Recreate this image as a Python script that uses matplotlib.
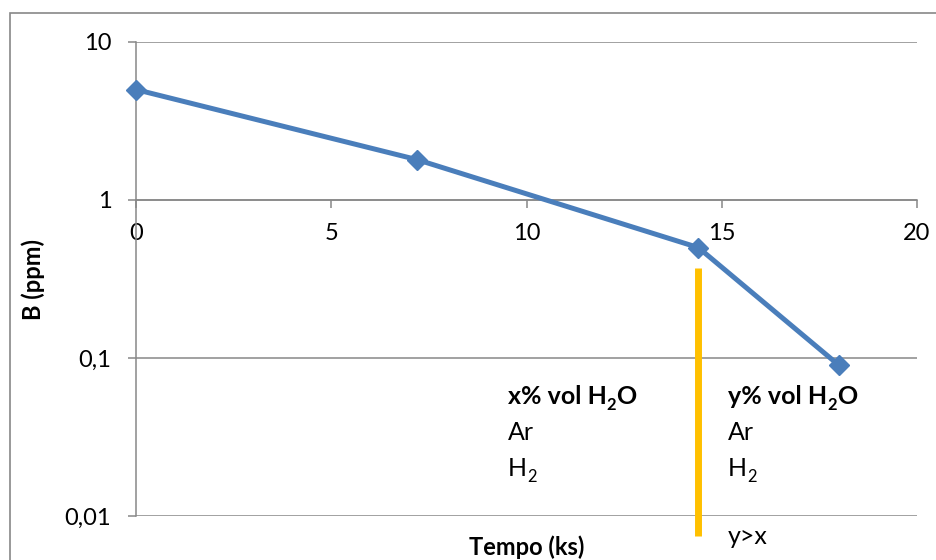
import matplotlib
matplotlib.use("Agg")
import matplotlib.pyplot as plt
from matplotlib.patches import Rectangle

plt.rcParams['font.family'] = ['Lato', 'DejaVu Sans']

# Data
tempo = [0, 7.2, 14.4, 18]
boro = [5.0, 1.8, 0.5, 0.09]
x_ticks = [0, 5, 10, 15, 20]
x_labels = ["0", "5", "10", "15", "20"]
y_ticks = [10, 1, 0.1, 0.01]
y_labels = ["10", "1", "0,1", "0,01"]
switch_x = 14.4
switch_y = [0.37, 0.0075]

W, H = 937, 560
fig = plt.figure(figsize=(W / 100, H / 100), dpi=100)
ax = fig.add_axes([136 / W, 1 - 516 / H, (917 - 136) / W, (516 - 42) / H])

grid_c = "#888888"
ax.set_yscale('log')
ax.set_xlim(0, 20)
ax.set_ylim(0.01, 10)

for yv in y_ticks:
    ax.axhline(yv, color=grid_c, lw=1.1, zorder=1)

ax.plot(tempo, boro, color="#4A7EBB", lw=3.6, marker='D', markersize=10,
        zorder=3, clip_on=False)

ax.plot([switch_x, switch_x], switch_y, color="#FFC000", lw=5, zorder=2,
        clip_on=False, solid_capstyle='butt')

ax.spines['top'].set_visible(False)
ax.spines['right'].set_visible(False)
ax.spines['bottom'].set_position(('data', 1))
ax.spines['bottom'].set_color(grid_c)
ax.spines['left'].set_color(grid_c)
ax.spines['bottom'].set_linewidth(1.1)
ax.spines['left'].set_linewidth(1.1)

ax.set_xticks(x_ticks)
ax.set_xticklabels(x_labels)
ax.set_yticks(y_ticks)
ax.set_yticklabels(y_labels)
ax.yaxis.set_minor_locator(matplotlib.ticker.NullLocator())
ax.tick_params(axis='both', colors=grid_c, labelcolor='black', labelsize=17,
               length=5.8, width=1.1)
ax.tick_params(axis='x', pad=10.5)
ax.tick_params(axis='y', pad=12)

renderer = fig.canvas.get_renderer()


def rich(xpx, ypx, parts, fs, weight='normal'):
    x = xpx
    for s, sub in parts:
        size = fs * 0.66 if sub else fs
        yy = ypx + (6 if sub else 0)
        t = fig.text(x / W, 1 - yy / H, s, fontsize=size, fontweight=weight,
                     va='baseline', ha='left')
        x += t.get_window_extent(renderer).width


fs = 18
for xl, lead in [(508, "x% vol H"), (728, "y% vol H")]:
    rich(xl, 404, [(lead, False), ("2", True), ("O", False)], fs, 'bold')
    rich(xl, 440, [("Ar", False)], fs)
    rich(xl, 476, [("H", False), ("2", True)], fs)
rich(728, 544, [("y>x", False)], fs)

fig.text(527 / W, 1 - 547 / H, "Tempo (ks)", fontsize=17, fontweight='bold',
         ha='center', va='center')
fig.text(33 / W, 1 - 280 / H, "B (ppm)", fontsize=17, fontweight='bold',
         ha='center', va='center', rotation=90)

fig.patches.append(Rectangle((10.5 / W, -0.1), 2, 1 - 12.5 / H + 0.1,
                             transform=fig.transFigure, fill=False,
                             edgecolor=grid_c, lw=1.2))

fig.savefig("out.png", dpi=100)
